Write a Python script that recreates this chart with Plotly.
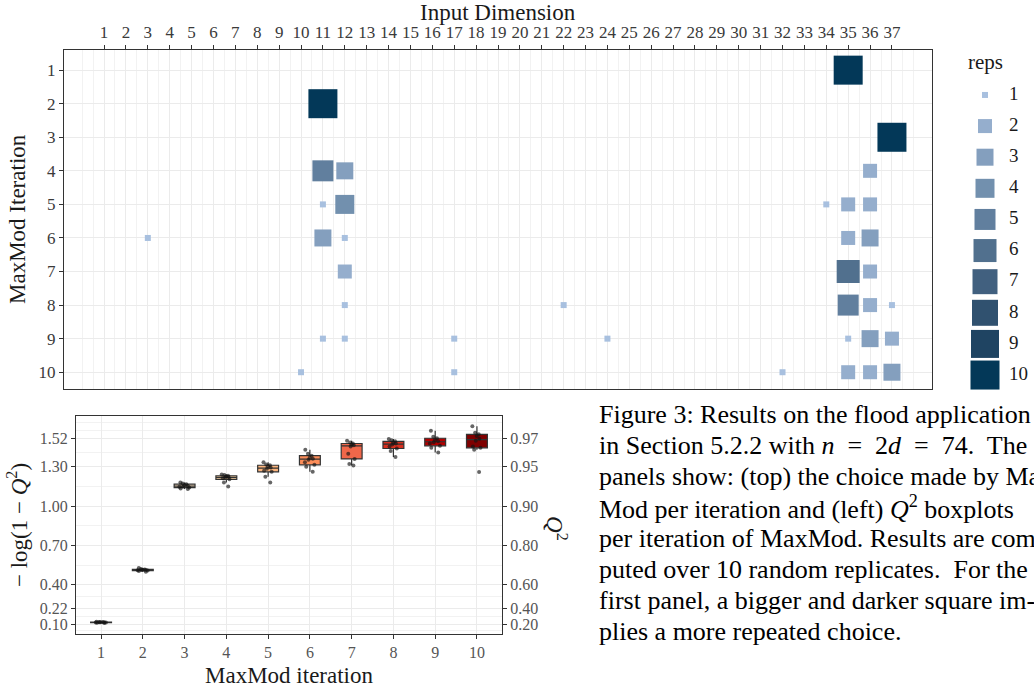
import plotly.graph_objects as go

W, H = 1034, 690

# ---------------- data: top panel (MaxMod choices) ----------------
iteration = [1, 2, 3, 4, 4, 4, 5, 5, 5, 5, 5, 6, 6, 6, 6, 6, 7, 7, 7,
             8, 8, 8, 8, 8, 9, 9, 9, 9, 9, 9, 9, 10, 10, 10, 10, 10, 10]
dimension = [35, 11, 37, 11, 12, 36, 11, 12, 34, 35, 36, 3, 11, 12, 35, 36, 12, 35, 36,
             12, 22, 35, 36, 37, 11, 12, 17, 24, 35, 36, 37, 10, 17, 32, 35, 36, 37]
reps = [10, 10, 10, 5, 3, 2, 1, 4, 1, 2, 2, 1, 3, 1, 2, 3, 2, 6, 2,
        1, 1, 5, 2, 1, 1, 1, 1, 1, 1, 3, 2, 1, 1, 1, 2, 2, 3]
rep_levels = [1, 2, 3, 4, 5, 6, 7, 8, 9, 10]
dim_ticks = list(range(1, 38))
iter_ticks = list(range(1, 11))

# style scales for reps
rep_sizes = [6, 14, 17, 19, 21, 23, 25, 26, 28, 29]
rep_colors = ['#a8c0df', '#95aecd', '#849fbe', '#7290ae', '#617f9e',
              '#51708e', '#41607f', '#30516f', '#1f4462', '#033858']

# ---------------- data: bottom panel (-log10(1-Q2) per iteration) ----------------
maxmod_iter = [1, 2, 3, 4, 5, 6, 7, 8, 9, 10]
score_it1 = [0.108, 0.110, 0.111, 0.112, 0.113, 0.113, 0.114, 0.115, 0.116, 0.118]
score_it2 = [0.500, 0.505, 0.508, 0.510, 0.512, 0.514, 0.515, 0.517, 0.520, 0.528]
score_it3 = [1.130, 1.135, 1.142, 1.148, 1.150, 1.155, 1.160, 1.168, 1.172, 1.180]
score_it4 = [1.150, 1.180, 1.205, 1.212, 1.218, 1.222, 1.228, 1.232, 1.238, 1.242]
score_it5 = [1.180, 1.225, 1.262, 1.270, 1.285, 1.295, 1.305, 1.312, 1.318, 1.335]
score_it6 = [1.262, 1.300, 1.315, 1.335, 1.355, 1.362, 1.370, 1.385, 1.400, 1.430]
score_it7 = [1.310, 1.322, 1.360, 1.400, 1.455, 1.465, 1.470, 1.478, 1.485, 1.500]
score_it8 = [1.375, 1.420, 1.440, 1.455, 1.470, 1.478, 1.485, 1.495, 1.502, 1.512]
score_it9 = [1.410, 1.445, 1.460, 1.478, 1.488, 1.495, 1.505, 1.518, 1.530, 1.575]
score_it10 = [1.260, 1.430, 1.445, 1.455, 1.500, 1.515, 1.535, 1.548, 1.560, 1.610]
scores = [score_it1, score_it2, score_it3, score_it4, score_it5,
          score_it6, score_it7, score_it8, score_it9, score_it10]
box_colors = ['#fff7ec', '#feebcf', '#fce0bd', '#fbd3a2', '#fbb47d',
              '#fc8d59', '#f0674a', '#d7301f', '#b30000', '#7f0000']

left_tickvals = [0.10, 0.22, 0.40, 0.70, 1.00, 1.30, 1.52]
left_ticktext = ['0.10', '0.22', '0.40', '0.70', '1.00', '1.30', '1.52']
right_ticktext = ['0.20', '0.40', '0.60', '0.80', '0.90', '0.95', '0.97']
minor_grid_vals = [0.05, 0.16, 0.31, 0.55, 0.85, 1.15, 1.41, 1.575, 1.64]

FONT = 'Liberation Serif'
GRID = '#ebebeb'
MINOR = '#f2f2f2'
BORDER = '#333333'
TITLE_SIZE = 23


def px_x(p):
    return p / W


def px_y(p):
    return 1 - p / H


fig = go.Figure()

# top panel squares
size_of = dict(zip(rep_levels, rep_sizes))
color_of = dict(zip(rep_levels, rep_colors))
fig.add_trace(go.Scatter(
    x=dimension, y=iteration, mode='markers',
    marker=dict(symbol='square', size=[size_of[r] for r in reps],
                color=[color_of[r] for r in reps], line=dict(width=0), opacity=1),
    xaxis='x', yaxis='y', showlegend=False, hoverinfo='skip'))

# legend (as its own little axis)
fig.add_trace(go.Scatter(
    x=[25] * len(rep_levels), y=rep_levels, mode='markers',
    marker=dict(symbol='square', size=rep_sizes, color=rep_colors,
                line=dict(width=0), opacity=1),
    xaxis='x4', yaxis='y4', showlegend=False, hoverinfo='skip', cliponaxis=False))
fig.add_trace(go.Scatter(
    x=[49] * len(rep_levels), y=rep_levels, mode='text',
    text=[str(r) for r in rep_levels], textposition='middle right',
    textfont=dict(family=FONT, size=19, color='#1a1a1a'),
    xaxis='x4', yaxis='y4', showlegend=False, hoverinfo='skip', cliponaxis=False))

# bottom boxplots
for it, vals, col in zip(maxmod_iter, scores, box_colors):
    fig.add_trace(go.Box(
        x=[it] * len(vals), y=vals, width=0.5,
        fillcolor=col, line=dict(color=BORDER, width=1.2),
        whiskerwidth=0, boxpoints='all', jitter=0.6, pointpos=0,
        marker=dict(color='rgba(20,20,20,0.65)', size=4),
        xaxis='x2', yaxis='y2', showlegend=False, hoverinfo='skip'))

# invisible trace to activate right axis
fig.add_trace(go.Scatter(x=[None], y=[None], xaxis='x2', yaxis='y3',
                         showlegend=False, hoverinfo='skip'))

tickfont_top = dict(family=FONT, size=17, color='#3a3a3a')
tickfont_bot = dict(family=FONT, size=16, color='#555555')

fig.update_layout(
    width=W, height=H, autosize=False,
    margin=dict(l=0, r=0, t=0, b=0, pad=0),
    paper_bgcolor='white', plot_bgcolor='white',
    font=dict(family=FONT),
    xaxis=dict(domain=[px_x(64), px_x(932)], anchor='y', side='top',
               range=[-0.83, 38.83], tickmode='array', tickvals=dim_ticks,
               ticktext=[str(d) for d in dim_ticks], tickfont=tickfont_top,
               ticks='outside', ticklen=4, tickcolor=BORDER, tickwidth=1,
               showgrid=True, gridcolor=GRID, gridwidth=1.2,
               minor=dict(tickvals=[v / 2 for v in range(0, 77) if v % 2 == 1] + [0, 38],
                          showgrid=True, gridcolor=MINOR, gridwidth=0.9),
               showline=True, mirror=True, linecolor=BORDER, linewidth=1.2,
               zeroline=False, fixedrange=True),
    yaxis=dict(domain=[px_y(389), px_y(50)], anchor='x',
               range=[10.5, 0.4], tickmode='array', tickvals=iter_ticks,
               ticktext=[str(i) for i in iter_ticks], tickfont=tickfont_top,
               ticks='outside', ticklen=4, tickcolor=BORDER,
               showgrid=True, gridcolor=GRID, gridwidth=1.2,
               showline=True, mirror=True, linecolor=BORDER, linewidth=1.2,
               zeroline=False),
    xaxis2=dict(domain=[px_x(76), px_x(502)], anchor='y2',
                range=[0.4, 10.6], tickmode='array', tickvals=maxmod_iter,
                ticktext=[str(i) for i in maxmod_iter], tickfont=tickfont_bot,
                ticks='outside', ticklen=4, tickcolor=BORDER,
                showgrid=True, gridcolor=GRID, gridwidth=1.2,
                showline=True, mirror=True, linecolor=BORDER, linewidth=1.2,
                zeroline=False),
    yaxis2=dict(domain=[px_y(634), px_y(416)], anchor='x2',
                range=[0.024, 1.688], tickmode='array', tickvals=left_tickvals,
                ticktext=left_ticktext, tickfont=tickfont_bot,
                ticks='outside', ticklen=4, tickcolor=BORDER,
                showgrid=True, gridcolor=GRID, gridwidth=1.2,
                minor=dict(tickvals=minor_grid_vals, showgrid=True,
                           gridcolor=MINOR, gridwidth=0.9),
                showline=True, mirror=True, linecolor=BORDER, linewidth=1.2,
                zeroline=False),
    yaxis3=dict(overlaying='y2', anchor='x2', side='right',
                range=[0.024, 1.688], tickmode='array', tickvals=left_tickvals,
                ticktext=right_ticktext, tickfont=tickfont_bot,
                ticks='outside', ticklen=4, tickcolor=BORDER,
                showgrid=False, zeroline=False, showline=False),
    xaxis4=dict(domain=[px_x(960), 1.0], anchor='y4', range=[0, 74],
                visible=False, fixedrange=True),
    yaxis4=dict(domain=[px_y(390.6), px_y(79.4)], anchor='x4', range=[10.5, 0.5],
                visible=False, fixedrange=True),
)

ann = []
ann.append(dict(text='Input Dimension', x=px_x(498), y=px_y(12), xref='paper', yref='paper',
                showarrow=False, font=dict(family=FONT, size=TITLE_SIZE, color='#1a1a1a'),
                xanchor='center', yanchor='middle'))
ann.append(dict(text='MaxMod Iteration', x=px_x(18), y=px_y(219), xref='paper', yref='paper',
                showarrow=False, textangle=-90,
                font=dict(family=FONT, size=TITLE_SIZE, color='#1a1a1a'),
                xanchor='center', yanchor='middle'))
ann.append(dict(text='reps', x=px_x(985), y=px_y(62), xref='paper', yref='paper',
                showarrow=False, font=dict(family=FONT, size=21, color='#1a1a1a'),
                xanchor='center', yanchor='middle'))
ann.append(dict(text='MaxMod iteration', x=px_x(289), y=px_y(675), xref='paper', yref='paper',
                showarrow=False, font=dict(family=FONT, size=TITLE_SIZE, color='#1a1a1a'),
                xanchor='center', yanchor='middle'))
ann.append(dict(text='\u2212 log(1 \u2212 <i>Q</i><sup>2</sup>)', x=px_x(17), y=px_y(525),
                xref='paper', yref='paper', showarrow=False, textangle=-90,
                font=dict(family=FONT, size=TITLE_SIZE, color='#1a1a1a'),
                xanchor='center', yanchor='middle'))
ann.append(dict(text='<i>Q</i><sup>2</sup>', x=px_x(557), y=px_y(528), xref='paper', yref='paper',
                showarrow=False, textangle=90,
                font=dict(family=FONT, size=TITLE_SIZE, color='#1a1a1a'),
                xanchor='center', yanchor='middle'))

NB = '\u00a0'
caption = [
    'Figure 3: Results on the flood application',
    'in Section 5.2.2 with <i>n</i>' + NB * 2 + '=' + NB * 2 + '2<i>d</i>' + NB * 2 + '='
    + NB * 2 + '74.' + NB + ' The',
    'panels show: (top) the choice made by Max-',
    'Mod per iteration and (left) <i>Q</i><sup>2</sup> boxplots',
    'per iteration of MaxMod. Results are com-',
    'puted over 10 random replicates.' + NB + ' For the',
    'first panel, a bigger and darker square im-',
    'plies a more repeated choice.',
]
cap_y0, cap_dy = 414, 31
for i, line in enumerate(caption):
    ann.append(dict(text=line, x=px_x(597), y=px_y(cap_y0 + i * cap_dy), xref='paper', yref='paper',
                    showarrow=False, font=dict(family=FONT, size=26, color='#000000'),
                    xanchor='left', yanchor='middle', align='left'))

fig.update_layout(annotations=ann)

fig.write_html('out.html', config={'displayModeBar': False},
               post_script="document.body.style.margin='0';document.body.style.padding='0';")
